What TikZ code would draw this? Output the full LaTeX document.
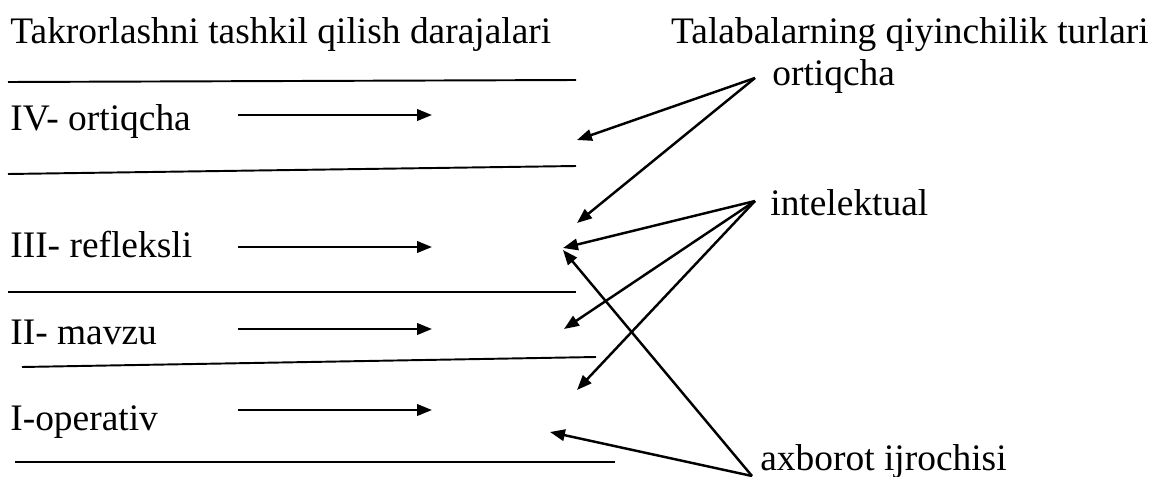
\documentclass[tikz,border=0pt]{standalone}
\usepackage{fontspec}
\setmainfont{Liberation Serif}
\usetikzlibrary{arrows.meta}
\begin{document}
\begin{tikzpicture}[x=0.02cm,y=-0.02cm,
  lbl/.style={anchor=base west,inner sep=0pt,font=\fontsize{21.3}{26}\selectfont},
  rule/.style={line width=1.1pt},
  arr/.style={line width=1.4pt,-{Triangle[length=8.5pt,width=6.5pt]}}]
\useasboundingbox (0,0) rectangle (1154,477);
% titles
\node[lbl] (tl) at (10,43) {Takrorlashni tashkil qilish darajalari};
\node[lbl,anchor=base east] (tr) at (1149,43) {Talabalarning qiyinchilik turlari};
% right labels
\node[lbl] (ro) at (772,85) {ortiqcha};
\node[lbl] (ri) at (770,215) {intelektual};
\node[lbl] (ra) at (760,470) {axborot ijrochisi};
% left labels
\node[lbl] (l4) at (10,130) {IV- ortiqcha};
\node[lbl] (l3) at (10,257) {III- refleksli};
\node[lbl] (l2) at (10,344) {II- mavzu};
\node[lbl] (l1) at (10,430) {I-operativ};
% rules
\draw[rule] (8,82) -- (576,80);
\draw[rule] (8,174) -- (576,166);
\draw[rule] (8,292) -- (576,292);
\draw[rule] (22,367) -- (596,357);
\draw[rule] (15,462) -- (615,462);
% short arrows
\foreach \y/\n in {115/4,247/3,329/2,410/1}{
  \coordinate (s\n) at (238,\y);
  \coordinate (e\n) at (432,\y);
  \draw[arr] (s\n) -- (e\n);
}
% sources
\coordinate (so) at (755,78);
\coordinate (si) at (755,201);
\coordinate (sa) at (752,476);
% tips
\coordinate (to1) at (577,140);
\coordinate (to2) at (577,223);
\coordinate (ti1) at (563,248);
\coordinate (ti2) at (564,329);
\coordinate (ti3) at (577,390);
\coordinate (ta1) at (563,250);
\coordinate (ta2) at (550,432);
\draw[arr] (so) -- (to1);
\draw[arr] (so) -- (to2);
\draw[arr] (si) -- (ti1);
\draw[arr] (si) -- (ti2);
\draw[arr] (si) -- (ti3);
\draw[arr] (sa) -- (ta1);
\draw[arr] (sa) -- (ta2);
\end{tikzpicture}
\end{document}
